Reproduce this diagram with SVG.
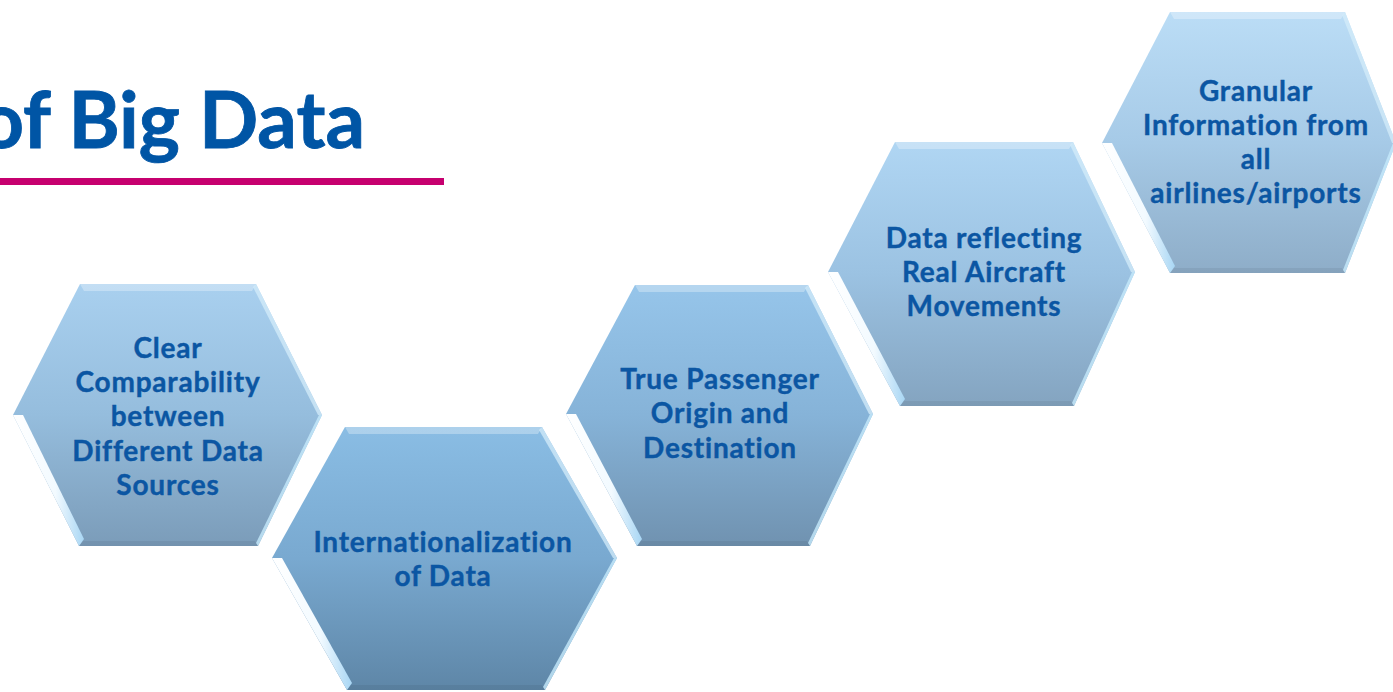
<svg xmlns="http://www.w3.org/2000/svg" width="1393" height="692" viewBox="0 0 1393 692">
  <defs>
    <linearGradient id="g1" x1="0" y1="0" x2="0" y2="1">
      <stop offset="0" stop-color="#A9D0EF"/>
      <stop offset="0.5" stop-color="#95BDDD"/>
      <stop offset="1" stop-color="#7B9CB9"/>
    </linearGradient>
    <linearGradient id="g2" x1="0" y1="0" x2="0" y2="1">
      <stop offset="0" stop-color="#8ABDE4"/>
      <stop offset="0.5" stop-color="#79A9D0"/>
      <stop offset="1" stop-color="#5E86A7"/>
    </linearGradient>
    <linearGradient id="g3" x1="0" y1="0" x2="0" y2="1">
      <stop offset="0" stop-color="#96C5EA"/>
      <stop offset="0.5" stop-color="#86B3D8"/>
      <stop offset="1" stop-color="#7092B0"/>
    </linearGradient>
    <linearGradient id="g4" x1="0" y1="0" x2="0" y2="1">
      <stop offset="0" stop-color="#B0D6F3"/>
      <stop offset="0.5" stop-color="#9BC2E2"/>
      <stop offset="1" stop-color="#84A4C0"/>
    </linearGradient>
    <linearGradient id="g5" x1="0" y1="0" x2="0" y2="1">
      <stop offset="0" stop-color="#BBDDF6"/>
      <stop offset="0.5" stop-color="#A6CAE7"/>
      <stop offset="1" stop-color="#8EADC8"/>
    </linearGradient>
    <linearGradient id="lowLeft" x1="0" y1="0" x2="1" y2="0">
      <stop offset="0" stop-color="#FFFFFF"/>
      <stop offset="0.6" stop-color="#F2FAFF"/>
      <stop offset="1" stop-color="#A8D6F4"/>
    </linearGradient>
  </defs>
  <style>
    .title { font-family: "Lato", "Liberation Sans", sans-serif; font-weight: 700; font-size: 78px; fill: #0055A5; stroke: #0055A5; stroke-width: 0.8px; }
    .lbl { font-family: "Lato", "Liberation Sans", sans-serif; font-weight: 700; font-size: 28px; letter-spacing: 0.8px; fill: #0B56A3; stroke: #0B56A3; stroke-width: 0.4px; text-anchor: middle; }
    .top { fill: #FFFFFF; opacity: 0.3; }
    .ll { fill: url(#lowLeft); }
    .ur { fill: #D4ECFA; opacity: 0.75; }
    .lr { fill: #C6EAFB; opacity: 0.8; }
    .bot { fill: #000000; opacity: 0.06; }
  </style>

  <!-- heading, its left part runs off the page -->
  <g id="heading">
    <text class="title" x="365" y="148" text-anchor="end">of Big Data</text>
    <rect x="0" y="178" width="444" height="7" fill="#C6006F"/>
  </g>

  <g id="connectors"/>

  <!-- hexagon 1 -->
  <g id="node-comparability">
    <polygon points="80,284 256,284 322,415 258,546 79,546 13,415" fill="url(#g1)"/>
    <polygon class="top" points="80,284 256,284 252,291 84,291"/>
    <polygon class="ur" points="256,284 322,415 318,415 253,287"/>
    <polygon class="lr" points="322,415 258,546 256,543 319,415"/>
    <polygon class="bot" points="79,546 258,546 255,541 83,541"/>
    <polygon class="ll" points="13,415 23,415 84,539 79,546"/>
    <text class="lbl" x="168" y="358">Clear</text>
    <text class="lbl" x="168" y="392">Comparability</text>
    <text class="lbl" x="168" y="426">between</text>
    <text class="lbl" x="168" y="461">Different Data</text>
    <text class="lbl" x="168" y="495">Sources</text>
  </g>

  <!-- hexagon 2 -->
  <g id="node-internationalization">
    <polygon points="345,427 542,427 617,558 545,690 347,690 272,558" fill="url(#g2)"/>
    <polygon class="top" points="345,427 542,427 538,434 349,434"/>
    <polygon class="ur" points="542,427 617,558 613,558 539,430"/>
    <polygon class="lr" points="617,558 545,690 543,687 614,558"/>
    <polygon class="bot" points="347,690 545,690 542,685 351,685"/>
    <polygon class="ll" points="272,558 282,558 352,683 347,690"/>
    <text class="lbl" x="443" y="552">Internationalization</text>
    <text class="lbl" x="443" y="586">of Data</text>
  </g>

  <!-- hexagon 3 -->
  <g id="node-origin-destination">
    <polygon points="635,285 808,285 873,414 810,546 637,546 566,414" fill="url(#g3)"/>
    <polygon class="top" points="635,285 808,285 804,292 639,292"/>
    <polygon class="ur" points="808,285 873,414 869,414 805,288"/>
    <polygon class="lr" points="873,414 810,546 808,543 870,414"/>
    <polygon class="bot" points="637,546 810,546 807,541 641,541"/>
    <polygon class="ll" points="566,414 576,414 642,539 637,546"/>
    <text class="lbl" x="720" y="389">True Passenger</text>
    <text class="lbl" x="720" y="423">Origin and</text>
    <text class="lbl" x="720" y="458">Destination</text>
  </g>

  <!-- hexagon 4 -->
  <g id="node-aircraft-movements">
    <polygon points="895,142 1073,142 1135,272 1074,406 900,406 828,272" fill="url(#g4)"/>
    <polygon class="top" points="895,142 1073,142 1069,149 899,149"/>
    <polygon class="ur" points="1073,142 1135,272 1131,272 1070,145"/>
    <polygon class="lr" points="1135,272 1074,406 1072,403 1132,272"/>
    <polygon class="bot" points="900,406 1074,406 1071,401 904,401"/>
    <polygon class="ll" points="828,272 838,272 905,399 900,406"/>
    <text class="lbl" x="984" y="248">Data reflecting</text>
    <text class="lbl" x="984" y="282">Real Aircraft</text>
    <text class="lbl" x="984" y="316">Movements</text>
  </g>

  <!-- hexagon 5 -->
  <g id="node-granular-information">
    <polygon points="1170,12 1345,12 1396,143 1345,273 1170,273 1102,143" fill="url(#g5)"/>
    <polygon class="top" points="1170,12 1345,12 1341,19 1174,19"/>
    <polygon class="ur" points="1345,12 1396,143 1392,143 1342,15"/>
    <polygon class="lr" points="1396,143 1345,273 1343,270 1393,143"/>
    <polygon class="bot" points="1170,273 1345,273 1342,268 1174,268"/>
    <polygon class="ll" points="1102,143 1112,143 1175,266 1170,273"/>
    <text class="lbl" x="1256" y="101">Granular</text>
    <text class="lbl" x="1256" y="135">Information from</text>
    <text class="lbl" x="1256" y="169">all</text>
    <text class="lbl" x="1256" y="203">airlines/airports</text>
  </g>
</svg>
